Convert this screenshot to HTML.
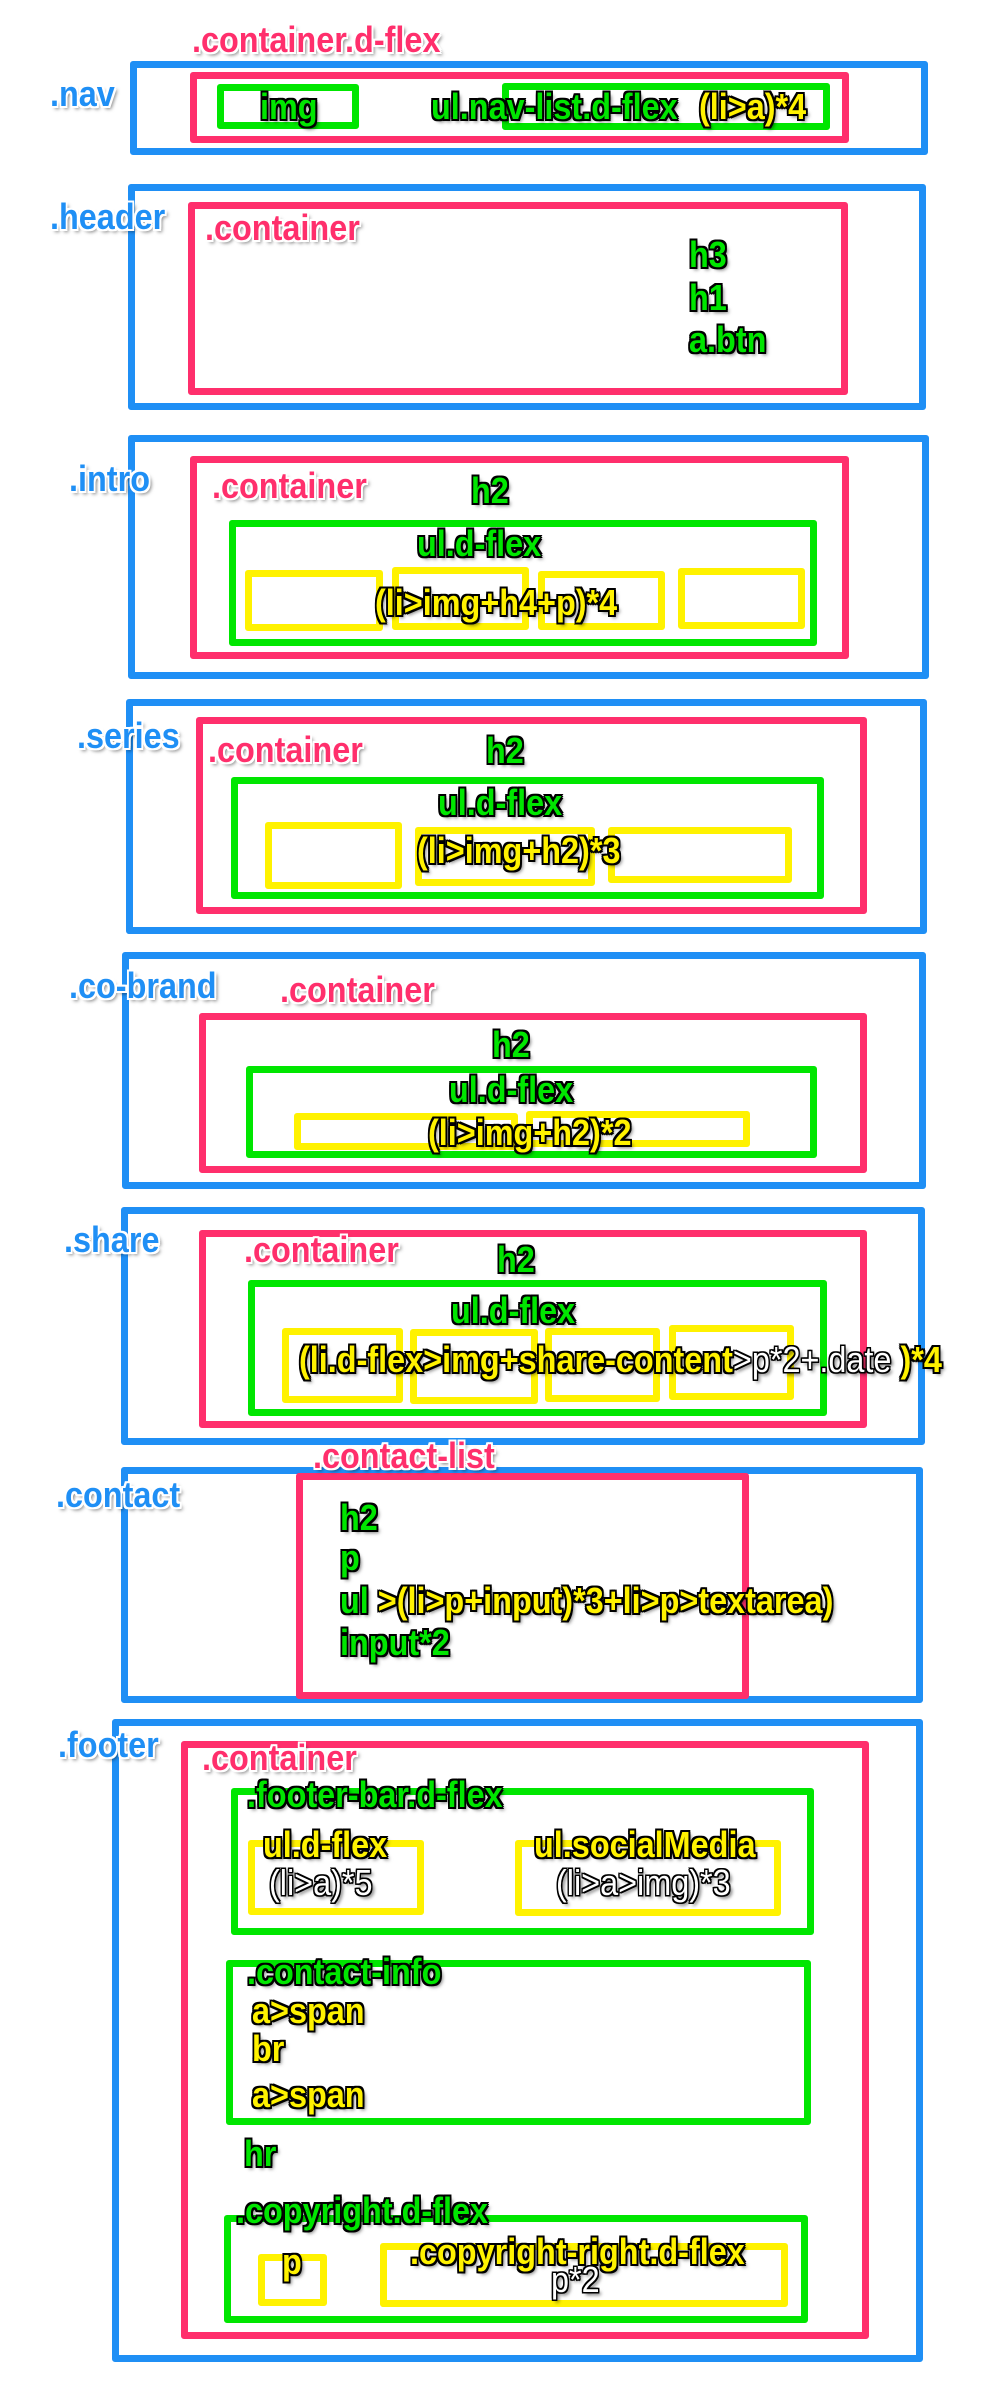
<!DOCTYPE html>
<html><head><meta charset="utf-8"><style>
html,body{margin:0;padding:0;background:#fff}
body{width:1000px;height:2408px;position:relative;overflow:hidden}
.b{position:absolute;box-sizing:border-box;border:7px solid;border-radius:3px}
.B{border-color:#1f8ff5}.P{border-color:#ff2f6c}.G{border-color:#00e600}.Y{border-color:#fff200}
.t{position:absolute;font:bold 36px/36px "Liberation Sans",sans-serif;transform:scaleX(.9);transform-origin:0 0;white-space:nowrap;margin-top:-5px}
.bl{color:#1f8ff5;text-shadow:-2px -2px 0 #fff,2px -2px 0 #fff,-2px 2px 0 #fff,2px 2px 0 #fff,0 2px 0 #fff,0 -2px 0 #fff,2px 0 0 #fff,-2px 0 0 #fff,3px 3px 4px rgba(0,0,0,.5)}
.pk{color:#ff2f6c;text-shadow:-2px -2px 0 #fff,2px -2px 0 #fff,-2px 2px 0 #fff,2px 2px 0 #fff,0 2px 0 #fff,0 -2px 0 #fff,2px 0 0 #fff,-2px 0 0 #fff,3px 3px 4px rgba(0,0,0,.5)}
.gr,.ye{text-shadow:-2px -2px 0 #000,2px -2px 0 #000,-2px 2px 0 #000,2px 2px 0 #000,0 2px 0 #000,0 -2px 0 #000,2px 0 0 #000,-2px 0 0 #000,3px 3px 4px rgba(0,0,0,.5)}
.gr{color:#00e600}.ye{color:#fff200}
.wh{color:#fff;font-weight:normal;text-shadow:-1.5px -1.5px 0 #000,1.5px -1.5px 0 #000,-1.5px 1.5px 0 #000,1.5px 1.5px 0 #000,0 1.5px 0 #000,0 -1.5px 0 #000,1.5px 0 0 #000,-1.5px 0 0 #000,3px 3px 4px rgba(0,0,0,.6)}
</style></head><body>
<div class="b B" style="left:130px;top:61px;width:798px;height:94px"></div>
<div class="b P" style="left:190px;top:72px;width:659px;height:71px"></div>
<div class="b G" style="left:217px;top:84px;width:142px;height:45px"></div>
<div class="b G" style="left:502px;top:83px;width:328px;height:47px"></div>
<div class="b B" style="left:128px;top:184px;width:798px;height:226px"></div>
<div class="b P" style="left:188px;top:202px;width:660px;height:193px"></div>
<div class="b B" style="left:128px;top:435px;width:801px;height:244px"></div>
<div class="b P" style="left:190px;top:456px;width:659px;height:203px"></div>
<div class="b G" style="left:229px;top:520px;width:588px;height:126px"></div>
<div class="b Y" style="left:245px;top:570px;width:138px;height:61px"></div>
<div class="b Y" style="left:392px;top:567px;width:137px;height:63px"></div>
<div class="b Y" style="left:538px;top:571px;width:127px;height:59px"></div>
<div class="b Y" style="left:678px;top:568px;width:127px;height:61px"></div>
<div class="b B" style="left:126px;top:699px;width:801px;height:235px"></div>
<div class="b P" style="left:196px;top:717px;width:671px;height:197px"></div>
<div class="b G" style="left:231px;top:777px;width:593px;height:122px"></div>
<div class="b Y" style="left:265px;top:822px;width:137px;height:67px"></div>
<div class="b Y" style="left:415px;top:827px;width:180px;height:59px"></div>
<div class="b Y" style="left:608px;top:827px;width:184px;height:56px"></div>
<div class="b B" style="left:122px;top:952px;width:804px;height:237px"></div>
<div class="b P" style="left:199px;top:1013px;width:668px;height:160px"></div>
<div class="b G" style="left:246px;top:1066px;width:571px;height:92px"></div>
<div class="b Y" style="left:294px;top:1113px;width:224px;height:37px"></div>
<div class="b Y" style="left:526px;top:1111px;width:224px;height:36px"></div>
<div class="b B" style="left:121px;top:1207px;width:804px;height:238px"></div>
<div class="b P" style="left:199px;top:1230px;width:668px;height:198px"></div>
<div class="b G" style="left:248px;top:1280px;width:579px;height:136px"></div>
<div class="b Y" style="left:282px;top:1328px;width:121px;height:75px"></div>
<div class="b Y" style="left:410px;top:1329px;width:128px;height:75px"></div>
<div class="b Y" style="left:545px;top:1328px;width:115px;height:74px"></div>
<div class="b Y" style="left:669px;top:1325px;width:125px;height:75px"></div>
<div class="b B" style="left:121px;top:1467px;width:802px;height:236px"></div>
<div class="b P" style="left:296px;top:1473px;width:453px;height:226px"></div>
<div class="b B" style="left:112px;top:1719px;width:811px;height:643px"></div>
<div class="b P" style="left:181px;top:1741px;width:688px;height:598px"></div>
<div class="b G" style="left:231px;top:1788px;width:583px;height:147px"></div>
<div class="b Y" style="left:248px;top:1840px;width:176px;height:75px"></div>
<div class="b Y" style="left:515px;top:1840px;width:266px;height:76px"></div>
<div class="b G" style="left:226px;top:1960px;width:585px;height:165px"></div>
<div class="b G" style="left:224px;top:2215px;width:584px;height:108px"></div>
<div class="b Y" style="left:258px;top:2254px;width:69px;height:52px"></div>
<div class="b Y" style="left:380px;top:2243px;width:408px;height:64px"></div>

<div class="t pk" style="left:192px;top:27px">.container.d-flex</div>
<div class="t bl" style="left:50px;top:81px">.nav</div>
<div class="t gr" style="left:260px;top:94px">img</div>
<div class="t gr" style="left:431px;top:94px">ul.nav-list.d-flex</div>
<div class="t ye" style="left:699px;top:94px">(li&gt;a)*4</div>
<div class="t bl" style="left:50px;top:204px">.header</div>
<div class="t pk" style="left:205px;top:215px">.container</div>
<div class="t gr" style="left:689px;top:242px">h3</div>
<div class="t gr" style="left:689px;top:285px">h1</div>
<div class="t gr" style="left:689px;top:327px">a.btn</div>
<div class="t bl" style="left:69px;top:466px">.intro</div>
<div class="t pk" style="left:212px;top:473px">.container</div>
<div class="t gr" style="left:471px;top:478px">h2</div>
<div class="t gr" style="left:417px;top:531px">ul.d-flex</div>
<div class="t ye" style="left:375px;top:590px">(li&gt;img+h4+p)*4</div>
<div class="t bl" style="left:77px;top:723px">.series</div>
<div class="t pk" style="left:208px;top:737px">.container</div>
<div class="t gr" style="left:486px;top:738px">h2</div>
<div class="t gr" style="left:438px;top:790px">ul.d-flex</div>
<div class="t ye" style="left:417px;top:838px">(li&gt;img+h2)*3</div>
<div class="t bl" style="left:69px;top:973px">.co-brand</div>
<div class="t pk" style="left:280px;top:977px">.container</div>
<div class="t gr" style="left:492px;top:1032px">h2</div>
<div class="t gr" style="left:449px;top:1077px">ul.d-flex</div>
<div class="t ye" style="left:428px;top:1120px">(li&gt;img+h2)*2</div>
<div class="t bl" style="left:64px;top:1227px">.share</div>
<div class="t pk" style="left:244px;top:1237px">.container</div>
<div class="t gr" style="left:497px;top:1247px">h2</div>
<div class="t gr" style="left:451px;top:1298px">ul.d-flex</div>
<div class="t ye" style="left:299px;top:1347px">(li.d-flex&gt;img+share-content<span class="wh">&gt;p*2+.date </span>)*4</div>
<div class="t pk" style="left:313px;top:1443px">.contact-list</div>
<div class="t bl" style="left:56px;top:1482px">.contact</div>
<div class="t gr" style="left:340px;top:1505px">h2</div>
<div class="t gr" style="left:340px;top:1545px">p</div>
<div class="t gr" style="left:340px;top:1588px">ul <span class="ye">&gt;(li&gt;p+input)*3+li&gt;p&gt;textarea)</span></div>
<div class="t gr" style="left:340px;top:1630px">input*2</div>
<div class="t bl" style="left:58px;top:1732px">.footer</div>
<div class="t pk" style="left:202px;top:1745px">.container</div>
<div class="t gr" style="left:247px;top:1782px">.footer-bar.d-flex</div>
<div class="t ye" style="left:263px;top:1832px">ul.d-flex</div>
<div class="t wh" style="left:269px;top:1870px">(li&gt;a)*5</div>
<div class="t ye" style="left:534px;top:1832px">ul.socialMedia</div>
<div class="t wh" style="left:556px;top:1870px">(li&gt;a&gt;img)*3</div>
<div class="t gr" style="left:247px;top:1959px">.contact-info</div>
<div class="t ye" style="left:252px;top:1998px">a&gt;span</div>
<div class="t ye" style="left:252px;top:2036px">br</div>
<div class="t ye" style="left:252px;top:2082px">a&gt;span</div>
<div class="t gr" style="left:244px;top:2141px">hr</div>
<div class="t gr" style="left:236px;top:2198px">.copyright.d-flex</div>
<div class="t ye" style="left:282px;top:2249px">p</div>
<div class="t ye" style="left:410px;top:2239px">.copyright-right.d-flex</div>
<div class="t wh" style="left:551px;top:2267px">p*2</div>
</body></html>
